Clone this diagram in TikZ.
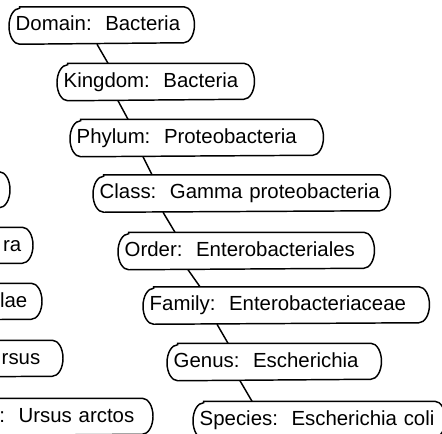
\documentclass[tikz,border=0pt]{standalone}
\usepackage{fontspec}
\setmainfont{Liberation Sans}
\begin{document}
\begin{tikzpicture}[x=0.75pt, y=0.75pt, line width=1.1pt,
  every node/.style={font=\fontsize{15.3}{18}\selectfont}]
\tikzset{taxon/.style={rectangle, minimum height=27pt, inner xsep=4.5pt, inner ysep=0pt,
    text height=11pt, text depth=3pt, anchor=west, align=left},
  offframe/.style={rectangle, minimum height=27pt, inner ysep=0pt, text height=11pt,
    text depth=3pt, anchor=east, align=right, text width=150pt}}
\useasboundingbox (0,0) rectangle (442,-433);
\clip (0,0) rectangle (442,-433);
% right tree
\node[taxon, text width=129pt] (dom) at (9,-25.5) {Domain:~~Bacteria};
\node[taxon, text width=138pt] (kin) at (57,-82) {Kingdom:~~Bacteria};
\node[taxon, text width=180pt] (phy) at (70,-138) {Phylum:~~Proteobacteria};
\node[taxon, text width=213pt] (cla) at (93,-193.5) {Class:~~Gamma~proteobacteria};
\node[taxon, text width=182.25pt] (ord) at (118,-251) {Order:~~Enterobacteriales};
\node[taxon, text width=204.75pt] (fam) at (143,-305.5) {Family:~~Enterobacteriaceae};
\node[taxon, text width=150.75pt] (gen) at (167,-362) {Genus:~~Escherichia};
\node[taxon, text width=179.25pt] (spe) at (193,-420) {Species:~~Escherichia~coli};
% left tree, cut by the frame
\node[offframe, inner xsep=4.5pt] (lcla) at (10,-190.5) {};
\node[offframe, inner xsep=8.25pt] (lord) at (33,-246) {ra};
\node[offframe, inner xsep=10.5pt] (lfam) at (42,-302) {lae};
\node[offframe, inner xsep=16.5pt] (lgen) at (63,-359) {rsus};
\node[offframe, inner xsep=13.5pt] (lspe) at (153,-417) {:~~Ursus~arctos};
% outlines
\foreach \n in {dom,kin,phy,cla,ord,fam,gen,spe,lcla,lord,lfam,lgen,lspe}
  \draw ([xshift=8pt]\n.north west) -- ([xshift=-8pt]\n.north east)
    arc[start angle=90, end angle=-90, x radius=8pt, y radius=13.5pt]
    -- ([xshift=8pt]\n.south west)
    arc[start angle=270, end angle=90, x radius=8pt, y radius=13.5pt] -- cycle;
% links
\draw ([shift={(88,0)}]dom.south west) -- ([shift={(51,0)}]kin.north west);
\draw ([shift={(61,0)}]kin.south west) -- ([shift={(58,0)}]phy.north west);
\draw ([shift={(73,0)}]phy.south west) -- ([shift={(59,0)}]cla.north west);
\draw ([shift={(70,0)}]cla.south west) -- ([shift={(57,0)}]ord.north west);
\draw ([shift={(70,0)}]ord.south west) -- ([shift={(57,0)}]fam.north west);
\draw ([shift={(74,0)}]fam.south west) -- ([shift={(61,0)}]gen.north west);
\draw ([shift={(73,0)}]gen.south west) -- ([shift={(59,0)}]spe.north west);
\end{tikzpicture}
\end{document}
